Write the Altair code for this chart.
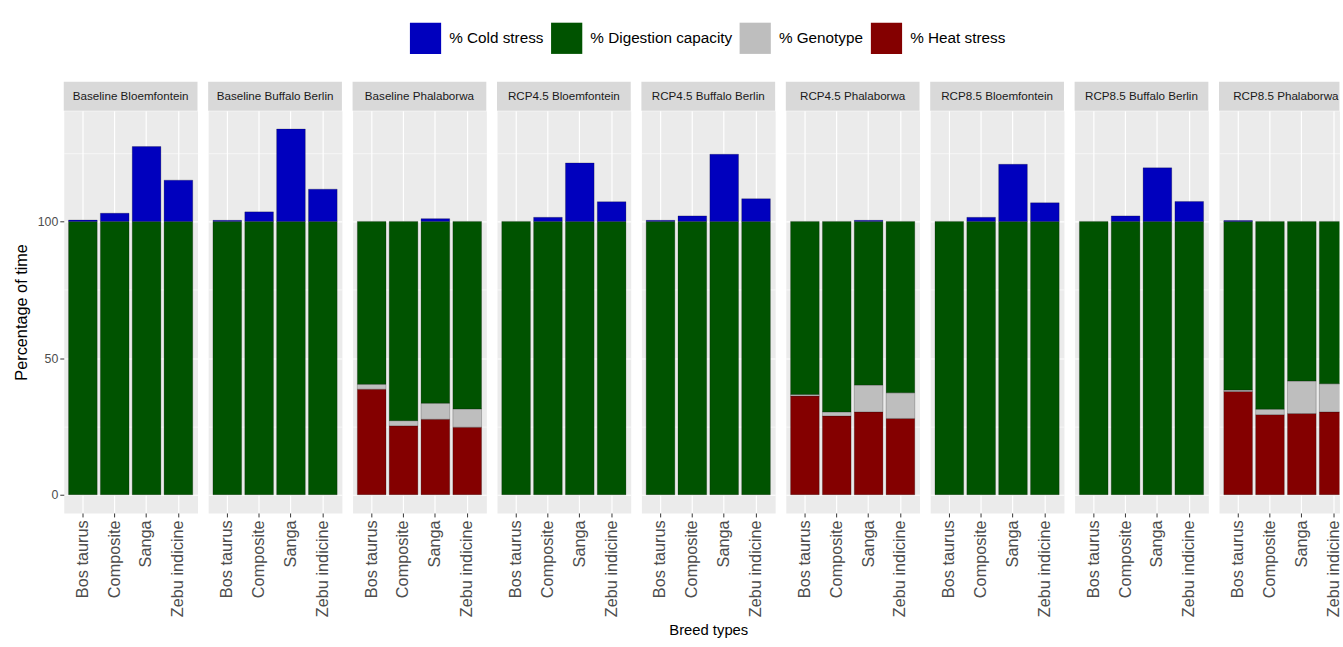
import altair as alt
import pandas as pd

panels = [
    "Baseline Bloemfontein", "Baseline Buffalo Berlin", "Baseline Phalaborwa",
    "RCP4.5 Bloemfontein", "RCP4.5 Buffalo Berlin", "RCP4.5 Phalaborwa",
    "RCP8.5 Bloemfontein", "RCP8.5 Buffalo Berlin", "RCP8.5 Phalaborwa",
]
breeds = ["Bos taurus", "Composite", "Sanga", "Zebu indicine"]
components = ["% Cold stress", "% Digestion capacity", "% Genotype", "% Heat stress"]
colors = ["#0000BE", "#005300", "#BEBEBE", "#840000"]

# one row per panel, values for Bos taurus, Composite, Sanga, Zebu indicine
cold_stress = [
    [0.5, 3.0, 27.4, 15.1],
    [0.4, 3.5, 33.8, 11.8],
    [0.0, 0.0, 1.0, 0.0],
    [0.0, 1.5, 21.4, 7.2],
    [0.4, 2.0, 24.6, 8.3],
    [0.0, 0.0, 0.4, 0.0],
    [0.0, 1.5, 20.9, 6.8],
    [0.0, 2.0, 19.6, 7.3],
    [0.3, 0.0, 0.0, 0.0],
]
digestion = [
    [100.0, 100.0, 100.0, 100.0],
    [100.0, 100.0, 100.0, 100.0],
    [59.6, 72.9, 66.5, 68.6],
    [100.0, 100.0, 100.0, 100.0],
    [100.0, 100.0, 100.0, 100.0],
    [63.3, 69.7, 59.9, 62.7],
    [100.0, 100.0, 100.0, 100.0],
    [100.0, 100.0, 100.0, 100.0],
    [61.7, 68.7, 58.4, 59.4],
]
genotype = [
    [0.0, 0.0, 0.0, 0.0],
    [0.0, 0.0, 0.0, 0.0],
    [1.8, 1.9, 5.9, 6.7],
    [0.0, 0.0, 0.0, 0.0],
    [0.0, 0.0, 0.0, 0.0],
    [0.6, 1.5, 9.8, 9.4],
    [0.0, 0.0, 0.0, 0.0],
    [0.0, 0.0, 0.0, 0.0],
    [0.5, 2.0, 11.9, 10.3],
]
heat_stress = [
    [0.0, 0.0, 0.0, 0.0],
    [0.0, 0.0, 0.0, 0.0],
    [38.6, 25.2, 27.6, 24.7],
    [0.0, 0.0, 0.0, 0.0],
    [0.0, 0.0, 0.0, 0.0],
    [36.1, 28.8, 30.3, 27.9],
    [0.0, 0.0, 0.0, 0.0],
    [0.0, 0.0, 0.0, 0.0],
    [37.8, 29.3, 29.7, 30.3],
]

# stacking order from the bottom: heat, genotype, digestion, cold
series = [
    ("% Heat stress", heat_stress, 0),
    ("% Genotype", genotype, 1),
    ("% Digestion capacity", digestion, 2),
    ("% Cold stress", cold_stress, 3),
]
rows = []
for name, table, order in series:
    for p, panel in enumerate(panels):
        for b, breed in enumerate(breeds):
            v = table[p][b]
            if v > 0:
                rows.append({"panel": panel, "breed": breed, "component": name,
                             "value": v, "ord": order})
df = pd.DataFrame(rows)

totals = df.groupby(["panel", "breed"])["value"].sum()
ymax = float(totals.max())
pad = 0.05 * ymax

PANEL_W = 135.5
PANEL_H = 407.5
SPACING = 9.3
LAST_W = 122        # the right-most panel runs off the page edge
FONT = "Liberation Sans"
STRIP_H = 29.5

minor = "datum.value % 50 !== 0"
y_scale = alt.Scale(domain=[-pad, ymax + pad], nice=False, zero=False)


def panel_chart(i, panel):
    first = i == 0
    last = i == len(panels) - 1
    width = LAST_W if last else PANEL_W

    x_scale = alt.Scale(paddingInner=0.1, paddingOuter=0.15)
    if last:
        x_scale = alt.Scale(paddingInner=0.1, paddingOuter=0.15, range=[0, PANEL_W])

    x_axis = alt.Axis(
        labelAngle=270, labelFontSize=16.5, labelColor="#4D4D4D", labelFont=FONT,
        labelPadding=3, tickSize=4, tickColor="#333333", domain=False,
        grid=True, gridColor="#FFFFFF", gridWidth=1.2, bandPosition=0.5,
        title="Breed types" if i == 4 else None,
        titleFontSize=15, titleFont=FONT, titleFontWeight="normal",
        titleColor="#000000", titlePadding=6,
    )
    if first:
        y_axis = alt.Axis(
            values=[0, 25, 50, 75, 100, 125],
            labelExpr="datum.value % 50 === 0 ? datum.label : ''",
            labelFontSize=12.5, labelColor="#4D4D4D", labelFont=FONT, labelPadding=2,
            tickSize=4, tickColor="#333333",
            tickOpacity={"condition": {"test": minor, "value": 0}, "value": 1},
            domain=False, grid=True, gridColor="#FFFFFF",
            gridWidth={"condition": {"test": minor, "value": 0.6}, "value": 1.2},
            title="Percentage of time",
            titleFontSize=16.5, titleFont=FONT, titleFontWeight="normal",
            titleColor="#000000", titlePadding=8,
        )
    else:
        y_axis = alt.Axis(
            values=[0, 25, 50, 75, 100, 125], labels=False, ticks=False,
            domain=False, grid=True, gridColor="#FFFFFF",
            gridWidth={"condition": {"test": minor, "value": 0.6}, "value": 1.2},
            title=None,
        )

    legend = None
    if first:
        legend = alt.Legend(
            title=None, orient="none", direction="horizontal",
            legendX=350.5, legendY=-89.5,
            symbolType="square", symbolSize=1000, symbolStrokeWidth=0,
            symbolOpacity=1, labelFontSize=15.5, labelFont=FONT,
            labelColor="#000000", labelOffset=8, columnPadding=7,
        )

    bars = alt.Chart().mark_bar(
        stroke="#000000", strokeWidth=0.5, strokeOpacity=0.45, clip=last
    ).encode(
        x=alt.X("breed:N", sort=breeds, scale=x_scale, axis=x_axis),
        y=alt.Y("value:Q", stack="zero", scale=y_scale, axis=y_axis),
        color=alt.Color(
            "component:N",
            scale=alt.Scale(domain=components, range=colors),
            legend=legend,
        ),
        order=alt.Order("ord:Q"),
    )

    strip_filter = (alt.datum.breed == "Bos taurus") & (alt.datum.component == "% Digestion capacity")

    strip = alt.Chart().mark_rect(color="#D9D9D9").encode(
        x=alt.value(0), x2=alt.value(width), y=alt.value(-STRIP_H), y2=alt.value(0)
    ).transform_filter(strip_filter)

    strip_text = alt.Chart().mark_text(
        fontSize=11.8, color="#1A1A1A", font=FONT, baseline="middle", align="center"
    ).encode(
        text="panel:N", x=alt.value(PANEL_W / 2), y=alt.value(-STRIP_H / 2)
    ).transform_filter(strip_filter)

    return alt.layer(bars, strip, strip_text).transform_filter(
        alt.datum.panel == panel
    ).properties(width=width, height=PANEL_H)


chart = alt.hconcat(
    *[panel_chart(i, p) for i, p in enumerate(panels)],
    data=df, spacing=SPACING,
).properties(
    # the clipped bar in the right-most panel is trimmed at the page edge
    padding={"left": 12.6, "top": 18, "right": -11, "bottom": 0}
).configure(
    background="#FFFFFF"
).configure_view(
    fill="#EBEBEB", stroke="transparent"
)

chart.save("out.html", embed_options={"renderer": "svg", "actions": False})
